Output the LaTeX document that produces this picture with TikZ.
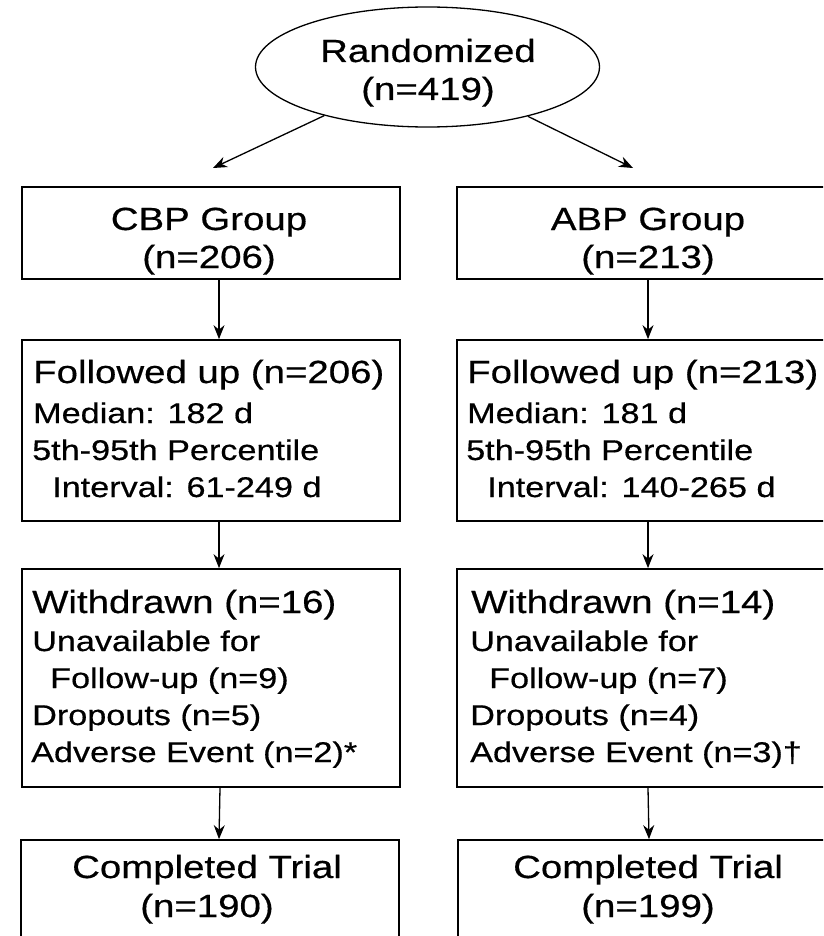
\documentclass[tikz,border=0pt]{standalone}
\usepackage{fontspec}
\setmainfont{Liberation Sans}[FakeStretch=1.2,FakeBold=0.5]
\usetikzlibrary{shapes.geometric,arrows.meta}
\begin{document}
\begin{tikzpicture}[x=1pt,y=-1pt,
  box/.style={draw, rectangle, line width=1.7pt, minimum width=378pt, inner sep=0pt},
  oval/.style={draw, ellipse, line width=1.3pt, minimum width=344pt, minimum height=120pt, inner sep=0pt},
  big/.style={inner sep=0pt, font=\fontsize{32}{38}\selectfont},
  small/.style={inner sep=0pt, font=\fontsize{28.5}{34}\selectfont},
  arr/.style={-{Stealth[length=14pt,width=11pt]}, line width=1.3pt}]
\useasboundingbox (0,0) rectangle (823,936);
\clip (0,0) rectangle (823,936);

% top ellipse
\node[oval] (rand) at (427.5,67) {};
\node[big, anchor=base] (randa) at (428,62) {Randomized};
\node[big, anchor=base] (randb) at (428,100) {(n=419)};
\coordinate (tL) at (213,168);
\coordinate (tR) at (633,168);
\draw[arr] (rand) -- (tL);
\draw[arr] (rand) -- (tR);

% group boxes
\node[box, minimum height=92pt] (cbp) at (211,233) {};
\node[box, minimum height=92pt] (abp) at (646,233) {};
\node[big, anchor=base] (cbpa) at (209,230) {CBP Group};
\node[big, anchor=base] (cbpb) at (209,268) {(n=206)};
\node[big, anchor=base] (abpa) at (648,230) {ABP Group};
\node[big, anchor=base] (abpb) at (648,268) {(n=213)};

% followed up boxes
\node[box, minimum height=181pt] (folL) at (211,430.5) {};
\node[box, minimum height=181pt] (folR) at (646,430.5) {};
\node[big, anchor=base west] (fl1) at (33,383) {Followed up (n=206)};
\node[small, anchor=base west] (fl2) at (33,423) {Median: 182 d};
\node[small, anchor=base west] (fl3) at (32,460) {5th-95th Percentile};
\node[small, anchor=base west] (fl4) at (52,497) {Interval: 61-249 d};
\node[big, anchor=base west] (fr1) at (467,383) {Followed up (n=213)};
\node[small, anchor=base west] (fr2) at (467,423) {Median: 181 d};
\node[small, anchor=base west] (fr3) at (466,460) {5th-95th Percentile};
\node[small, anchor=base west] (fr4) at (487,497) {Interval: 140-265 d};

% withdrawn boxes
\node[box, minimum height=218pt] (wdL) at (211,678) {};
\node[box, minimum height=218pt] (wdR) at (646,678) {};
\node[big, anchor=base west] (wl1) at (32,613) {Withdrawn (n=16)};
\node[small, anchor=base west] (wl2) at (32,651) {Unavailable for};
\node[small, anchor=base west] (wl3) at (50,688) {Follow-up (n=9)};
\node[small, anchor=base west] (wl4) at (32,725) {Dropouts (n=5)};
\node[small, anchor=base west] (wl5) at (31,762) {Adverse Event (n=2)*};
\node[big, anchor=base west] (wr1) at (471,613) {Withdrawn (n=14)};
\node[small, anchor=base west] (wr2) at (470,651) {Unavailable for};
\node[small, anchor=base west] (wr3) at (489,688) {Follow-up (n=7)};
\node[small, anchor=base west] (wr4) at (470,725) {Dropouts (n=4)};
\node[small, anchor=base west] (wr5) at (470,762) {Adverse Event (n=3)†};

% completed boxes
\node[box, minimum height=120pt] (cpL) at (210,900) {};
\node[box, minimum height=120pt] (cpR) at (647,900) {};
\node[big, anchor=base] (cla) at (207,878) {Completed Trial};
\node[big, anchor=base] (clb) at (207,917) {(n=190)};
\node[big, anchor=base] (cra) at (648,878) {Completed Trial};
\node[big, anchor=base] (crb) at (648,917) {(n=199)};

% vertical connectors
\draw[arr] ([xshift=8pt]cbp.south) -- ([xshift=8pt]folL.north);
\draw[arr] ([xshift=2pt]abp.south) -- ([xshift=2pt]folR.north);
\draw[arr] ([xshift=8pt]folL.south) -- ([xshift=8pt]wdL.north);
\draw[arr] ([xshift=2pt]folR.south) -- ([xshift=2pt]wdR.north);
\draw[arr] ([xshift=9pt]wdL.south) -- ([xshift=9pt]cpL.north);
\draw[arr] ([xshift=2pt]wdR.south) -- ([xshift=2pt]cpR.north);
\end{tikzpicture}
\end{document}
